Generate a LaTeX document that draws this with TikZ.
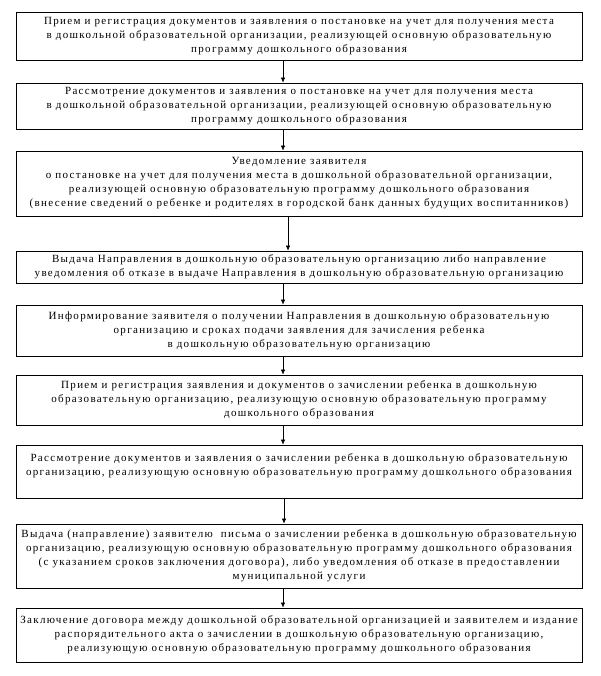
\documentclass[tikz,border=0pt]{standalone}
\usepackage{fontspec}
\newfontfamily\boxfont{Liberation Serif}[LetterSpace=12]
\usetikzlibrary{positioning,arrows.meta}

\begin{document}
\begin{tikzpicture}[
  x=1pt, y=-1pt,
  every node/.style={font=\boxfont\fontsize{11}{14}\selectfont},
  stepbox/.style={
    rectangle, draw=black, line width=0.8pt,
    fill=white,
    minimum width=566pt, align=center,
    inner sep=2pt
  }
]
\useasboundingbox (0,0) rectangle (600,676);

% Stages
\node[stepbox, minimum height=48pt] (b1) at (299,36) {Прием и регистрация документов и заявления о постановке на учет для получения места\\в дошкольной образовательной организации, реализующей основную образовательную\\программу дошкольного образования};
\node[stepbox, minimum height=46pt] (b2) at (299,106) {Рассмотрение документов и заявления о постановке на учет для получения места\\в дошкольной образовательной организации, реализующей основную образовательную\\программу дошкольного образования};
\node[stepbox, minimum height=65pt] (b3) at (299,183.5) {Уведомление заявителя\\о постановке на учет для получения места в дошкольной образовательной организации,\\реализующей основную образовательную программу дошкольного образования\\(внесение сведений о ребенке и родителях в городской банк данных будущих воспитанников)};
\node[stepbox, minimum height=32pt] (b4) at (299,267) {Выдача Направления в дошкольную образовательную организацию либо направление\\уведомления об отказе в выдаче Направления в дошкольную образовательную организацию};
\node[stepbox, minimum height=51pt] (b5) at (299,330.5) {Информирование заявителя о получении Направления в дошкольную образовательную\\организацию и сроках подачи заявления для зачисления ребенка\\в дошкольную образовательную организацию};
\node[stepbox, minimum height=50pt] (b6) at (299,400) {Прием и регистрация заявления и документов о зачислении ребенка в дошкольную\\образовательную организацию, реализующую основную образовательную программу\\дошкольного образования};
\node[stepbox, minimum height=53pt] (b7) at (299,471.5) {Рассмотрение документов и заявления о зачислении ребенка в дошкольную образовательную\\организацию, реализующую основную образовательную программу дошкольного образования\\~};
\node[stepbox, minimum height=64pt] (b8) at (299,556) {Выдача (направление) заявителю \ письма о зачислении ребенка в дошкольную образовательную\\организацию, реализующую основную образовательную программу дошкольного образования\\(с указанием сроков заключения договора), либо уведомления об отказе в предоставлении\\муниципальной услуги};
\node[stepbox, minimum height=54pt] (b9) at (299,635) {Заключение договора между дошкольной образовательной организацией и заявителем и издание\\распорядительного акта о зачислении в дошкольную образовательную организацию,\\реализующую основную образовательную программу дошкольного образования};

% Arrows between
\foreach \a/\b/\s in {b1/b2/-16, b2/b3/-16, b3/b4/-11, b4/b5/-16, b5/b6/-16, b6/b7/-16, b7/b8/-15, b8/b9/-16} {
  \draw[->, >={Latex[length=5pt,width=4.5pt]}, line width=0.6pt] ([xshift=\s pt]\a.south) -- ([xshift=\s pt]\b.north);
}

\end{tikzpicture}
\end{document}
